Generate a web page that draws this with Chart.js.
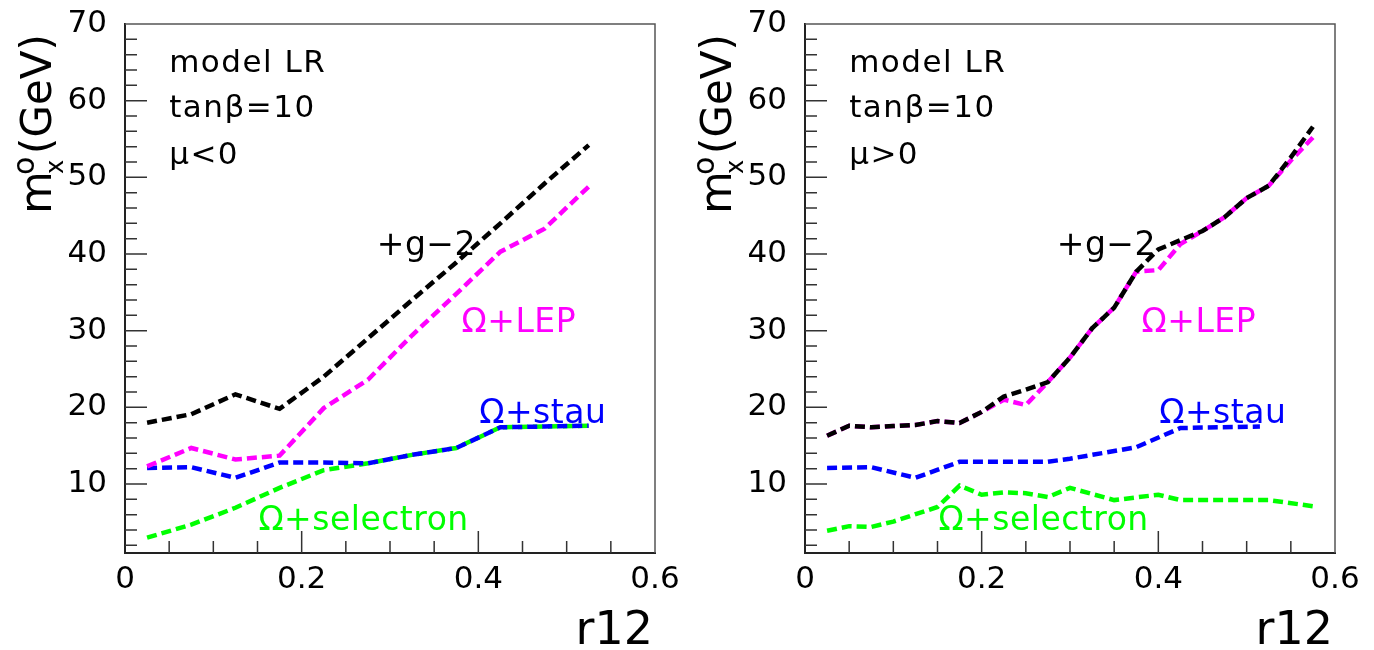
<!DOCTYPE html>
<html>
<head>
<meta charset="utf-8">
<script src="https://cdn.jsdelivr.net/npm/chart.js@4.4.1/dist/chart.umd.min.js"></script>
<style>
  html, body { margin: 0; padding: 0; background: #fff; }
  .wrap { display: flex; width: 1374px; height: 650px; }
  canvas { display: block; }
</style>
</head>
<body>
<div class="wrap">
  <canvas id="left" width="687" height="650"></canvas>
  <canvas id="right" width="687" height="650"></canvas>
</div>
<script>
// left panel (mu < 0)
const r12Left = [0.025, 0.075, 0.125, 0.175, 0.225, 0.275, 0.325, 0.375, 0.425, 0.475, 0.525]
const g2Left = [18.0, 19.1, 21.7, 19.8, 24.0, 29.0, 34.0, 38.9, 44.0, 49.2, 54.2]
const lepLeft = [12.3, 14.7, 13.2, 13.7, 19.9, 23.6, 29.4, 34.8, 40.3, 43.3, 48.8]
const stauLeft = [12.1, 12.2, 10.8, 12.8, 12.8, 12.7, 13.8, 14.7, 17.4, 17.5, 17.6]
const selLeft = [3.0, 4.7, 6.9, 9.5, 11.8, 12.7, 13.8, 14.7, 17.4, 17.5, 17.6]

// right panel (mu > 0)
const r12Right = [0.025, 0.05, 0.075, 0.1, 0.125, 0.15, 0.175, 0.2, 0.225, 0.25, 0.275, 0.3,
  0.325, 0.35, 0.375, 0.4, 0.425, 0.45, 0.475, 0.5, 0.525, 0.55, 0.575]
const g2Right = [16.3, 17.6, 17.4, 17.55, 17.7, 18.2, 17.95, 19.4, 21.4, 22.3, 23.3, 26.5,
  30.3, 33.0, 37.7, 40.6, 41.8, 43.0, 44.8, 47.3, 48.9, 52.6, 56.6]
const lepRight = [16.3, 17.6, 17.4, 17.55, 17.7, 18.2, 17.95, 19.4, 21.0, 20.3, 23.3, 26.5,
  30.3, 33.0, 37.7, 37.9, 41.3, 43.0, 44.8, 47.3, 48.9, 52.2, 55.2]
const r12StauRight = [0.025, 0.075, 0.125, 0.175, 0.225, 0.275, 0.3, 0.375, 0.425, 0.515]
const stauRight = [12.1, 12.2, 10.8, 12.9, 12.9, 12.9, 13.3, 14.8, 17.3, 17.5]
const r12SelRight = [0.025, 0.05, 0.075, 0.1, 0.15, 0.175, 0.2, 0.225, 0.25, 0.275, 0.3,
  0.35, 0.4, 0.425, 0.475, 0.525, 0.575]
const selRight = [3.9, 4.5, 4.4, 5.1, 7.0, 9.8, 8.6, 8.9, 8.8, 8.3, 9.5, 7.9, 8.6, 7.9, 7.9, 7.9, 7.1]

const yTicks = [10, 20, 30, 40, 50, 60, 70]
const xTicks = [0, 0.2, 0.4, 0.6]

const FONT = 'DejaVu Sans'
const pts = (xs, ys) => xs.map((x, i) => ({x, y: ys[i]}))

function curve(data, color) {
  return {
    data, borderColor: color, borderWidth: 4.5, borderDash: [10, 5],
    borderCapStyle: 'butt', pointRadius: 0, tension: 0, fill: false
  }
}

const panelPlugin = {
  id: 'panel',
  afterDraw(chart, args, opts) {
    const {ctx, chartArea: a, scales: {x, y}} = chart
    ctx.save()
    // top and right frame
    ctx.strokeStyle = '#555'
    ctx.lineWidth = 1.5
    ctx.beginPath()
    ctx.moveTo(a.left, a.top)
    ctx.lineTo(a.right, a.top)
    ctx.lineTo(a.right, a.bottom)
    ctx.stroke()

    // inward tick marks
    ctx.strokeStyle = '#333'
    ctx.beginPath()
    for (let v = 2; v < 70; v += 2) {
      const py = y.getPixelForValue(v)
      ctx.moveTo(a.left, py)
      ctx.lineTo(a.left + (v % 10 === 0 ? 22 : 12), py)
    }
    for (let i = 1; i < 12; i++) {
      const px = x.getPixelForValue(i * 0.05)
      ctx.moveTo(px, a.bottom)
      ctx.lineTo(px, a.bottom - (i % 4 === 0 ? 22 : 12))
    }
    ctx.stroke()

    // x title
    ctx.fillStyle = '#000'
    ctx.font = '46px "' + FONT + '"'
    ctx.textAlign = 'right'
    ctx.textBaseline = 'alphabetic'
    ctx.fillText('r12', a.right - 2, a.bottom + 91)

    // y title, rotated: m_x^o(GeV)
    ctx.save()
    ctx.translate(a.left - 74, 214)
    ctx.rotate(-Math.PI / 2)
    ctx.textAlign = 'left'
    ctx.font = '44px "' + FONT + '"'
    ctx.fillText('m', 0, 0)
    ctx.font = '24px "' + FONT + '"'
    ctx.fillText('x', 40, 12)
    ctx.font = '30px "' + FONT + '"'
    ctx.fillText('o', 39, -17)
    ctx.font = '42px "' + FONT + '"'
    ctx.fillText('(GeV)', 60, 0)
    ctx.restore()

    // text notes placed in data coordinates
    for (const n of opts.notes) {
      ctx.font = n.size + 'px "' + FONT + '"'
      ctx.letterSpacing = n.spacing + 'px'
      ctx.fillStyle = n.color
      ctx.textAlign = 'left'
      ctx.fillText(n.text, x.getPixelForValue(n.x), y.getPixelForValue(n.y))
    }
    ctx.restore()
  }
}

function makePanel(id, datasets, notes, area) {
  new Chart(document.getElementById(id), {
    type: 'line',
    data: {datasets},
    options: {
      responsive: false,
      animation: false,
      devicePixelRatio: 1,
      layout: {padding: {left: 0, right: area.right, top: 24, bottom: 0}},
      plugins: {legend: {display: false}, tooltip: {enabled: false}, panel: {notes}},
      scales: {
        x: {
          type: 'linear', min: 0, max: 0.6,
          afterBuildTicks: s => { s.ticks = xTicks.map(v => ({value: v})) },
          afterFit: s => { s.height = 97; s.paddingLeft = 0; s.paddingRight = 0 },
          ticks: {color: '#000', font: {family: FONT, size: 31}, padding: 8, maxRotation: 0},
          grid: {display: false, drawTicks: false},
          border: {display: true, color: '#222', width: 2}
        },
        y: {
          type: 'linear', min: 1, max: 70,
          afterBuildTicks: s => { s.ticks = yTicks.map(v => ({value: v})) },
          afterFit: s => { s.width = area.left; s.paddingTop = 0; s.paddingBottom = 0 },
          ticks: {color: '#000', font: {family: FONT, size: 31}, padding: 18},
          grid: {display: false, drawTicks: false},
          border: {display: true, color: '#222', width: 2}
        }
      }
    },
    plugins: [panelPlugin]
  })
}

function notesFor(sign) {
  return [
    {text: 'model LR', x: 0.05, y: 63.7, color: '#000', size: 31, spacing: 1.5},
    {text: 'tan\u03b2=10', x: 0.05, y: 57.9, color: '#000', size: 31, spacing: 1.5},
    {text: '\u03bc' + sign + '0', x: 0.05, y: 51.8, color: '#000', size: 31, spacing: 1.5},
    {text: '+g\u22122', x: 0.285, y: 39.85, color: '#000', size: 33, spacing: 0.5},
    {text: '\u03a9+LEP', x: 0.381, y: 29.8, color: '#ff00ff', size: 33, spacing: 0.5},
    {text: '\u03a9+stau', x: 0.401, y: 17.9, color: '#0000ff', size: 33, spacing: 0.5},
    {text: '\u03a9+selectron', x: 0.151, y: 3.94, color: '#00ff00', size: 33, spacing: 0.5}
  ]
}

makePanel('left', [
  curve(pts(r12Left, g2Left), '#000000'),
  curve(pts(r12Left, lepLeft), '#ff00ff'),
  curve(pts(r12Left, stauLeft), '#0000ff'),
  curve(pts(r12Left, selLeft), '#00ff00')
], notesFor('<'), {left: 125, right: 32})

makePanel('right', [
  curve(pts(r12Right, g2Right), '#000000'),
  curve(pts(r12Right, lepRight), '#ff00ff'),
  curve(pts(r12StauRight, stauRight), '#0000ff'),
  curve(pts(r12SelRight, selRight), '#00ff00')
], notesFor('>'), {left: 118, right: 39})
</script>
</body>
</html>
